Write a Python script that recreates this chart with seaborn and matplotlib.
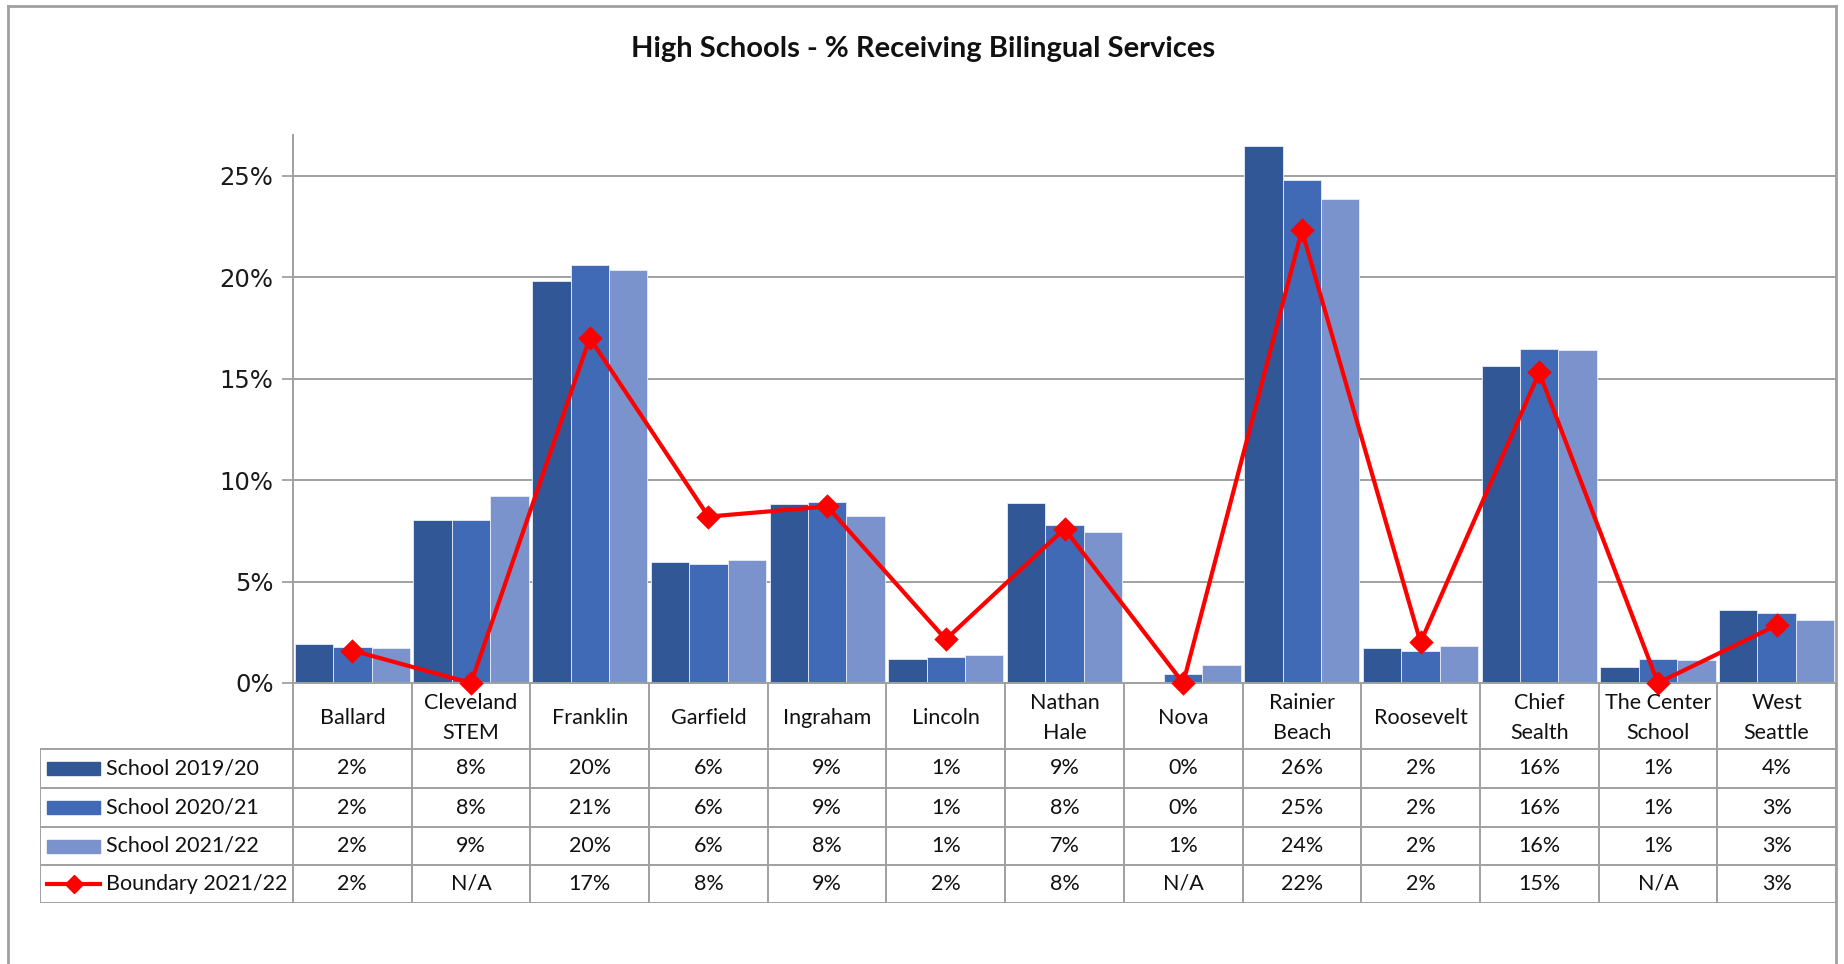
# %%

import numpy as np
import pandas as pd
import matplotlib.pyplot as plt
from matplotlib.lines import Line2D
from matplotlib.patches import Rectangle
import seaborn as sns

# %%

schools = ['Ballard', 'Cleveland\nSTEM', 'Franklin', 'Garfield', 'Ingraham',
           'Lincoln', 'Nathan\nHale', 'Nova', 'Rainier\nBeach', 'Roosevelt',
           'Chief\nSealth', 'The Center\nSchool', 'West\nSeattle']

school_1920 = [1.9, 8.05, 19.8, 5.95, 8.8, 1.2, 8.85, 0.0, 26.45, 1.7, 15.6, 0.8, 3.6]
school_2021 = [1.75, 8.05, 20.6, 5.85, 8.9, 1.3, 7.8, 0.45, 24.8, 1.6, 16.45, 1.2, 3.45]
school_2122 = [1.7, 9.2, 20.35, 6.05, 8.25, 1.4, 7.45, 0.87, 23.85, 1.8, 16.4, 1.15, 3.1]
boundary_2122 = [1.6, None, 17.0, 8.2, 8.7, 2.15, 7.6, None, 22.3, 2.0, 15.3, None, 2.85]

series_names = ['School 2019/20', 'School 2020/21', 'School 2021/22']
line_name = 'Boundary 2021/22'
colors = ['#315797', '#406AB6', '#7A93CD']
line_color = '#FF0000'

# %%

bars = pd.DataFrame({
    'school': schools * 3,
    'series': np.repeat(series_names, len(schools)),
    'value': school_1920 + school_2021 + school_2122,
})
# N/A boundary values are drawn at 0 like the original chart
boundary_plot = [0.0 if v is None else v for v in boundary_2122]

# %%

W, H = 1844, 964
fig = plt.figure(figsize=(W / 100, H / 100), dpi=100)
fig.patch.set_facecolor('white')

ax_left, ax_right, ax_top, ax_bottom = 293, 1836, 135, 683
ax = fig.add_axes([ax_left / W, 1 - ax_bottom / H,
                   (ax_right - ax_left) / W, (ax_bottom - ax_top) / H])

sns.barplot(data=bars, x='school', y='value', hue='series',
            order=schools, hue_order=series_names, palette=colors,
            width=0.97, gap=0, saturation=1, edgecolor='#E8ECF6',
            linewidth=0.6, legend=False, ax=ax, zorder=2)

sns.pointplot(x=schools, y=boundary_plot, order=schools, color=line_color,
              markers='D', markersize=10.5, linewidth=3.0, errorbar=None,
              ax=ax, zorder=4)
for ln in ax.lines:
    ln.set_clip_on(False)
for coll in ax.collections:
    coll.set_clip_on(False)

ax.set_xlim(-0.5, len(schools) - 0.5)
ax.set_ylim(0, 27)
ax.set_yticks([0, 5, 10, 15, 20, 25])
ax.set_yticklabels([f'{t}%' for t in [0, 5, 10, 15, 20, 25]],
                   fontsize=17.5, color='#1a1a1a', family='DejaVu Sans')
ax.tick_params(axis='y', length=8, width=1.3, color='#A0A0A0', pad=6)
ax.tick_params(axis='x', length=0, labelbottom=False)
ax.set_xlabel('')
ax.set_ylabel('')
ax.grid(axis='y', color='#A0A0A0', linewidth=1.4)
ax.set_axisbelow(True)
for side in ['top', 'right']:
    ax.spines[side].set_visible(False)
for side in ['left', 'bottom']:
    ax.spines[side].set_color('#A0A0A0')
    ax.spines[side].set_linewidth(1.4)
ax.set_facecolor('none')

# %%
# data table under the chart

tab_left, tab_top, tab_bottom = 40, 683, 903
cw = (ax_right - ax_left) / len(schools)
x_min = -0.5 - (ax_left - tab_left) / cw
tax = fig.add_axes([tab_left / W, 1 - tab_bottom / H,
                    (ax_right - tab_left) / W, (tab_bottom - tab_top) / H])
tax.set_xlim(x_min, len(schools) - 0.5)
tax.set_ylim(tab_bottom - tab_top, 0)
tax.axis('off')

grid_kw = dict(color='#A0A0A0', linewidth=1.4, solid_capstyle='projecting')
row_edges = [66, 105, 144, 182, 220]
for y in row_edges:
    tax.plot([x_min, len(schools) - 0.5], [y, y], **grid_kw)
for k in range(len(schools) + 1):
    tax.plot([k - 0.5, k - 0.5], [0, 220], **grid_kw)
tax.plot([x_min, x_min], [66, 220], **grid_kw)

font_tab = ['Lato', 'DejaVu Sans']
fs_tab = 15.5
for i, name in enumerate(schools):
    tax.text(i, 35, name, ha='center', va='center', fontsize=fs_tab,
             family=font_tab, linespacing=1.6, color='#111111')

rows = [school_1920, school_2021, school_2122, boundary_2122]
labels = series_names + [line_name]
for r, (vals, lab) in enumerate(zip(rows, labels)):
    yc = (row_edges[r] + row_edges[r + 1]) / 2
    for i, v in enumerate(vals):
        txt = 'N/A' if v is None else f'{v:.0f}%'
        tax.text(i, yc, txt, ha='center', va='center', fontsize=fs_tab,
                 family=font_tab, color='#111111')
    tax.text(x_min + 66 / cw, yc, lab, ha='left', va='center', fontsize=fs_tab,
             family=font_tab, color='#111111')
    kx0, kx1 = x_min + 7 / cw, x_min + 60 / cw
    if r < 3:
        tax.add_patch(Rectangle((kx0, yc - 6.5), kx1 - kx0, 13,
                                color=colors[r], clip_on=False))
    else:
        tax.plot([kx0, kx1], [yc, yc], color=line_color, linewidth=3.0)
        tax.plot([(kx0 + kx1) / 2], [yc], marker='D', markersize=9,
                 color=line_color)

# %%

fig.text(923 / W, 1 - 49 / H, 'High Schools - % Receiving Bilingual Services',
         ha='center', va='center', fontsize=21, fontweight='bold',
         family=['Lato', 'DejaVu Sans'], color='#111111')

border_kw = dict(color='#A0A0A0', linewidth=2)
fig.add_artist(Line2D([8 / W, 1836 / W], [1 - 6 / H, 1 - 6 / H], **border_kw))
fig.add_artist(Line2D([8 / W, 8 / W], [1 - 6 / H, 0], **border_kw))
fig.add_artist(Line2D([1836 / W, 1836 / W], [1 - 6 / H, 0], **border_kw))

plt.savefig('out.png', dpi=100, facecolor='white')
